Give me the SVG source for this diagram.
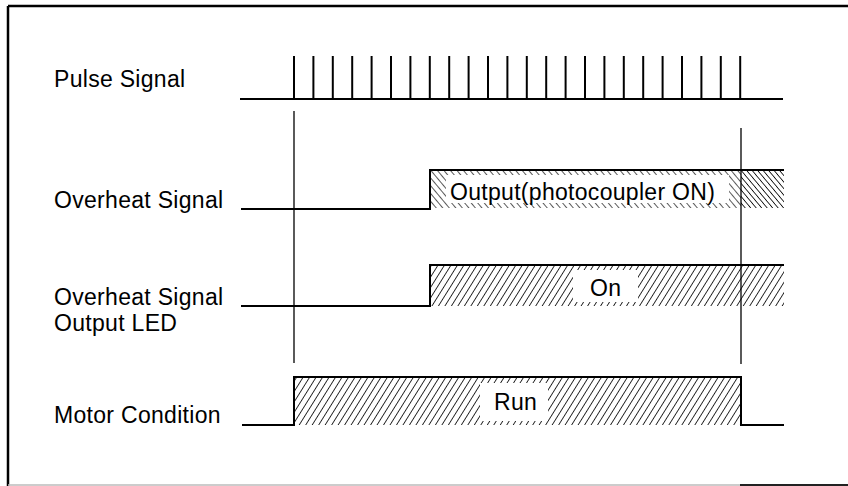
<svg xmlns="http://www.w3.org/2000/svg" width="848" height="486" viewBox="0 0 848 486">
<style>
.lbl{font-family:"Liberation Sans",Arial,sans-serif;font-size:23px;letter-spacing:0.3px;fill:#000}
.sig{fill:none;stroke:#000;stroke-width:2;stroke-linejoin:miter}
.ref{stroke:#000;stroke-width:1.3}
.tick{stroke:#000;stroke-width:2}
</style>
<defs>
<pattern id="fwd" width="5.5" height="6" patternUnits="userSpaceOnUse" patternTransform="rotate(32)">
<line x1="0" y1="0" x2="0" y2="6" stroke="#000" stroke-width="1.6"/>
</pattern>
<pattern id="back" width="5" height="5" patternUnits="userSpaceOnUse" patternTransform="rotate(-40)">
<line x1="0" y1="0" x2="0" y2="5" stroke="#000" stroke-width="1.3"/>
</pattern>
<pattern id="backd" width="4.2" height="5" patternUnits="userSpaceOnUse" patternTransform="rotate(-40)">
<line x1="0" y1="0" x2="0" y2="5" stroke="#000" stroke-width="1.6"/>
</pattern>
</defs>
<rect x="0" y="0" width="848" height="486" fill="#fff"/>
<g id="frame">
<line x1="8" y1="6" x2="848" y2="6" stroke="#000" stroke-width="2.5"/>
<line x1="8" y1="6" x2="8" y2="486" stroke="#000" stroke-width="2.5"/>
<line x1="8" y1="485" x2="740" y2="485" stroke="#bbb" stroke-width="1.5"/>
<line x1="740" y1="485" x2="848" y2="485" stroke="#222" stroke-width="2"/>
</g>
<g id="labels">
<text class="lbl" x="54" y="87">Pulse Signal</text>
<text class="lbl" x="54" y="208">Overheat Signal</text>
<text class="lbl" x="54" y="305">Overheat Signal</text>
<text class="lbl" x="54" y="331">Output LED</text>
<text class="lbl" x="54" y="423">Motor Condition</text>
</g>
<g id="connectors">
<line class="ref" x1="294" y1="111" x2="294" y2="363"/>
<line class="ref" x1="741" y1="128" x2="741" y2="364"/>
</g>
<g id="pulse">
<line class="sig" x1="240" y1="99" x2="783" y2="99"/>
<g class="tick">
<line x1="294" y1="56" x2="294" y2="99"/><line x1="313.4" y1="56" x2="313.4" y2="99"/>
<line x1="332.8" y1="56" x2="332.8" y2="99"/><line x1="352.2" y1="56" x2="352.2" y2="99"/>
<line x1="371.6" y1="56" x2="371.6" y2="99"/><line x1="391" y1="56" x2="391" y2="99"/>
<line x1="410.4" y1="56" x2="410.4" y2="99"/><line x1="429.8" y1="56" x2="429.8" y2="99"/>
<line x1="449.2" y1="56" x2="449.2" y2="99"/><line x1="468.6" y1="56" x2="468.6" y2="99"/>
<line x1="488" y1="56" x2="488" y2="99"/><line x1="507.4" y1="56" x2="507.4" y2="99"/>
<line x1="526.8" y1="56" x2="526.8" y2="99"/><line x1="546.2" y1="56" x2="546.2" y2="99"/>
<line x1="565.6" y1="56" x2="565.6" y2="99"/><line x1="585" y1="56" x2="585" y2="99"/>
<line x1="604.4" y1="56" x2="604.4" y2="99"/><line x1="623.8" y1="56" x2="623.8" y2="99"/>
<line x1="643.2" y1="56" x2="643.2" y2="99"/><line x1="662.6" y1="56" x2="662.6" y2="99"/>
<line x1="682" y1="56" x2="682" y2="99"/><line x1="701.4" y1="56" x2="701.4" y2="99"/>
<line x1="720.8" y1="56" x2="720.8" y2="99"/><line x1="740.2" y1="56" x2="740.2" y2="99"/>
</g>
</g>
<g id="overheat">
<rect x="430" y="170" width="311" height="38" fill="url(#back)"/>
<rect x="741" y="170" width="43" height="38" fill="url(#backd)"/>
<rect x="446" y="175" width="283" height="28" fill="#fff"/>
<polyline class="sig" points="241,209 430,209 430,170 784,170"/>
<text class="lbl" x="450" y="200">Output(photocoupler ON)</text>
</g>
<g id="led">
<rect x="430" y="265" width="354" height="41" fill="url(#fwd)"/>
<rect x="573" y="270" width="65" height="32" fill="#fff"/>
<polyline class="sig" points="241,306 430,306 430,265 784,265"/>
<text class="lbl" x="590" y="296">On</text>
</g>
<g id="motor">
<rect x="294" y="377" width="447" height="48" fill="url(#fwd)"/>
<rect x="480" y="383" width="68" height="38" fill="#fff"/>
<polyline class="sig" points="242,425 294,425 294,377 741,377 741,425 784,425"/>
<text class="lbl" x="494" y="410">Run</text>
</g>
</svg>
